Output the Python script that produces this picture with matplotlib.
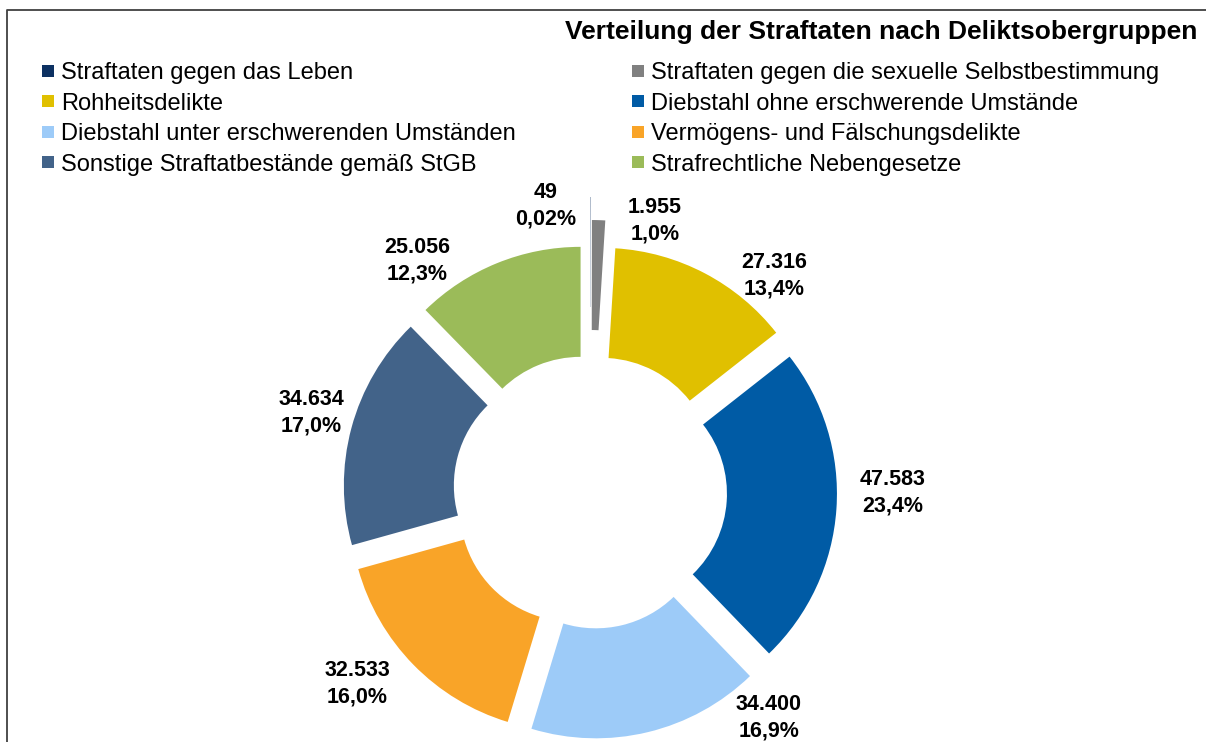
import matplotlib.pyplot as plt
from matplotlib.lines import Line2D

plt.rcParams['font.family'] = ['Liberation Sans', 'DejaVu Sans']

# data
categories = ['Straftaten gegen das Leben',
              'Straftaten gegen die sexuelle Selbstbestimmung',
              'Rohheitsdelikte',
              'Diebstahl ohne erschwerende Umstände',
              'Diebstahl unter erschwerenden Umständen',
              'Vermögens- und Fälschungsdelikte',
              'Sonstige Straftatbestände gemäß StGB',
              'Strafrechtliche Nebengesetze']
values = [49, 1955, 27316, 47583, 34400, 32533, 34634, 25056]
colors = ['#0d3162', '#808080', '#e0c000', '#005ba5',
          '#9dcbf8', '#f9a428', '#426389', '#9bbb59']
title = 'Verteilung der Straftaten nach Deliktsobergruppen'

# layout (pixels, y measured from top)
W, H = 1206, 742
cx, cy = 590, 492
R, ring = 222, 110
explode = [73, 50, 25, 25, 25, 25, 25, 25]
label_pos = [(546, 206), (655, 221), (774, 276), (893, 493),
             (769, 718), (357, 684), (311, 413), (417, 261)]

fig = plt.figure(figsize=(W / 100, H / 100), dpi=100)
ax = fig.add_axes([0, 0, 1, 1])

wedges, _ = ax.pie(values, colors=colors, startangle=90, counterclock=False,
                   radius=R, center=(cx, H - cy), explode=explode,
                   wedgeprops=dict(width=ring, linewidth=0))
ax.set_xlim(0, W)
ax.set_ylim(0, H)
ax.set_aspect('equal')
ax.axis('off')

total = sum(values)
for v, (x, y) in zip(values, label_pos):
    pct = v / total * 100
    p = f'{pct:.2f}' if pct < 0.1 else f'{pct:.1f}'
    txt = f'{v:,}'.replace(',', '.') + '\n' + p.replace('.', ',') + '%'
    ax.text(x, H - y, txt, ha='center', va='center', fontsize=15.5,
            fontweight='bold', linespacing=1.35)

ax.text(1197, H - 32, title, ha='right', va='center', fontsize=19,
        fontweight='bold')

# legend row-wise in two columns
order = [0, 2, 4, 6, 1, 3, 5, 7]
handles = [Line2D([], [], marker='s', linestyle='none', markersize=8,
                  markerfacecolor=colors[i], markeredgewidth=0) for i in order]
ax.legend(handles, [categories[i] for i in order], ncol=2, frameon=False,
          loc='upper left', bbox_to_anchor=(42 / W, 1 - 62 / H),
          bbox_transform=fig.transFigure, fontsize=17, handlelength=0.5,
          handletextpad=0.3, labelspacing=0.36, columnspacing=4.95,
          borderpad=0, borderaxespad=0)

# chart frame (open at right and bottom)
ax.plot([7, 7, W], [0, H - 10, H - 10], color='#404040', lw=1.3,
        clip_on=False)

fig.savefig('out.png', dpi=100)
